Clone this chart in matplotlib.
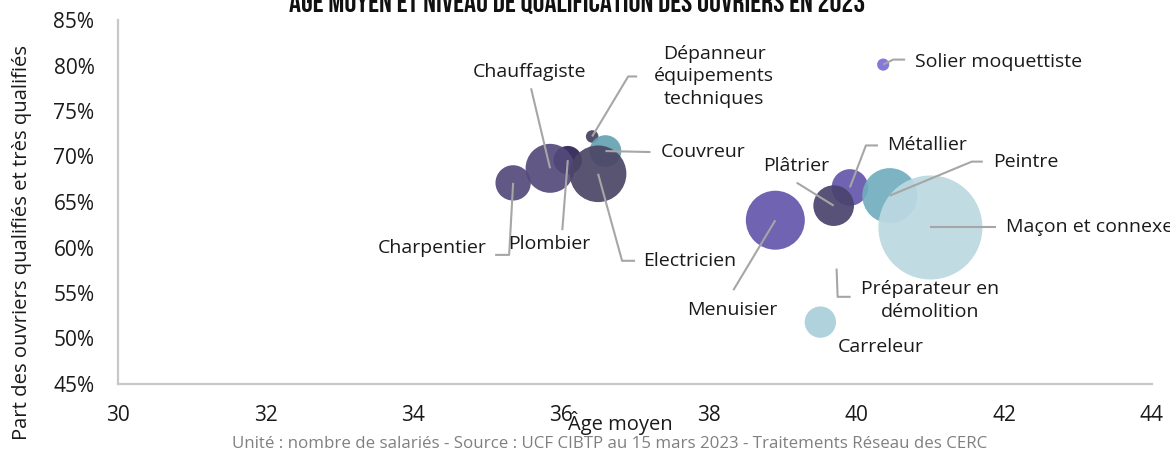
import numpy as np
import matplotlib
matplotlib.use("Agg")
import matplotlib.pyplot as plt

plt.rcParams["font.family"] = ["Open Sans", "DejaVu Sans"]

# --- data ---
metiers = ["Maçon et connexes", "Menuisier", "Electricien", "Peintre", "Chauffagiste",
           "Plâtrier", "Métallier", "Charpentier", "Couvreur", "Carreleur", "Plombier",
           "Dépanneur\néquipements\ntechniques", "Solier moquettiste",
           "Préparateur en\ndémolition"]
age_moyen = [41.00, 38.90, 36.50, 40.45, 35.85, 39.69, 39.91, 35.35, 36.60, 39.51,
             36.09, 36.42, 40.36, 39.73]
part_qualifies = [62.2, 63.0, 68.1, 65.7, 68.7, 64.6, 66.6, 67.1, 70.6, 51.8,
                  69.6, 72.2, 80.1, 57.6]
effectifs = [110000, 35400, 32600, 30800, 24400, 16800, 13600, 12700, 10200, 10000,
             8200, 1600, 1500, 60]
couleurs = ["#bcd8e1", "#6456ab", "#4b4566", "#72aebe", "#534a7b", "#4a436e",
            "#6456ab", "#534a7b", "#64a2b2", "#a9cfd9", "#2a2253", "#46405f",
            "#7a6ed6", "#a9cdd8"]

x_ticks = [30, 32, 34, 36, 38, 40, 42, 44]
y_ticks = [45, 50, 55, 60, 65, 70, 75, 80, 85]

# label placement: text offset (px, y up), alignment, leader vertices (px offsets)
label_layout = {
    "Maçon et connexes": ((76, 0), "left", [(66, 0)]),
    "Menuisier": ((-43, -90), "center", [(-42, -70)]),
    "Electricien": ((45, -87), "left", [(37, -87), (24, -87)]),
    "Peintre": ((103, 34), "left", [(93, 34), (82, 34)]),
    "Chauffagiste": ((-21, 96), "center", [(-19, 80)]),
    "Plâtrier": ((-37, 40), "center", [(-37, 23)]),
    "Métallier": ((37, 42), "left", [(28, 42), (16, 42)]),
    "Charpentier": ((-81, -65), "center", [(-18, -72), (-4, -72)]),
    "Couvreur": ((55, -1), "left", [(45, -1)]),
    "Carreleur": ((60, -25), "center", []),
    "Plombier": ((-19, -84), "center", [(-5.5, -70)]),
    "Dépanneur\néquipements\ntechniques": ((122, 60), "center", [(45, 60), (36, 60)]),
    "Solier moquettiste": ((32, 3), "left", [(22, 5), (10, 5)]),
    "Préparateur en\ndémolition": ((93, -31), "center", [(14, -27.5), (1, -27.5)]),
}

W, H, DPI = 1170, 453, 100
fig = plt.figure(figsize=(W / DPI, H / DPI), dpi=DPI)
ax = fig.add_axes([118 / W, (H - 384) / H, (1152 - 118) / W, (384 - 20) / H])
ax.set_xlim(30, 44)
ax.set_ylim(45, 85)

# bubble area proportional to headcount, biggest bubble ~52 px radius
eff = np.array(effectifs, dtype=float)
r_px = 52 * np.sqrt(eff / eff.max())
sizes = (2 * r_px * 72 / DPI) ** 2
for i in np.argsort(-eff):
    ax.scatter(age_moyen[i], part_qualifies[i], s=sizes[i], color=couleurs[i],
               alpha=0.92, edgecolors="none", zorder=2 + (len(eff) - i) * 0.01)

grey = "#a6a6a6"
inv = ax.transData.inverted()
for name, x, y in zip(metiers, age_moyen, part_qualifies):
    (tdx, tdy), ha, path = label_layout[name]
    p = ax.transData.transform((x, y))
    if path:
        verts = np.array([p + np.array(v) for v in path] + [p])
        dv = inv.transform(verts)
        ax.plot(dv[:, 0], dv[:, 1], color=grey, lw=1.5, zorder=5, clip_on=False,
                solid_capstyle="butt")
    ax.annotate(name, xy=(x, y), xytext=(tdx, tdy), textcoords="offset pixels",
                ha=ha, va="center", fontsize=14, color="#1a1a1a",
                linespacing=1.35, annotation_clip=False, zorder=6)

for side in ["top", "right"]:
    ax.spines[side].set_visible(False)
for side in ["left", "bottom"]:
    ax.spines[side].set_color("#c8c8c8")
    ax.spines[side].set_linewidth(1.6)

ax.set_xticks(x_ticks)
ax.set_xticklabels([str(t) for t in x_ticks])
ax.set_yticks(y_ticks)
ax.set_yticklabels([f"{t}%" for t in y_ticks])
ax.tick_params(axis="both", length=0, labelsize=15, colors="#1a1a1a")
ax.tick_params(axis="x", pad=15)
ax.tick_params(axis="y", pad=17)

fig.text(22 / W, 1 - 242 / H, "Part des ouvriers qualifiés et très qualifiés",
         rotation=90, ha="center", va="center", fontsize=14.6, color="#1a1a1a")
fig.text(620 / W, 1 - 423 / H, "Âge moyen", ha="center", va="center",
         fontsize=14.5, color="#1a1a1a")
fig.text(610 / W, 1 - 444 / H,
         "Unité : nombre de salariés - Source : UCF CIBTP au 15 mars 2023 - Traitements Réseau des CERC",
         ha="center", va="center", fontsize=12.2, color="#808080")
fig.text(577 / W, 1 - 12 / H,
         "ÂGE MOYEN ET NIVEAU DE QUALIFICATION DES OUVRIERS EN 2023",
         ha="center", va="baseline", fontsize=21.5,
         family=["Bebas Neue", "Oswald", "Archivo Narrow", "DejaVu Sans"],
         color="#111111")

fig.savefig("out.png", dpi=DPI)
